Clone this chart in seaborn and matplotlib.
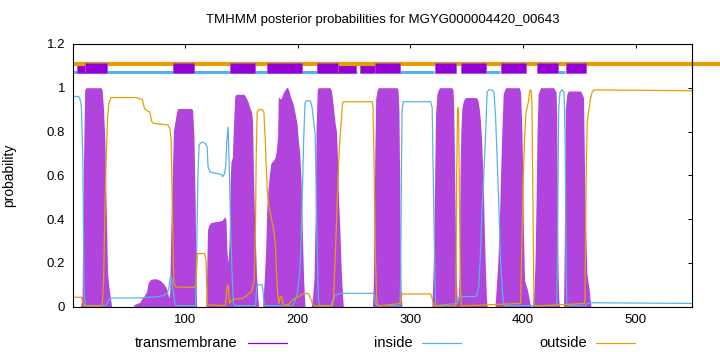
import numpy as np
import pandas as pd
import matplotlib
matplotlib.use("Agg")
import matplotlib.pyplot as plt
import seaborn as sns
from matplotlib.lines import Line2D
from matplotlib.patches import Rectangle

# ---------------- data ----------------
title = "TMHMM posterior probabilities for MGYG000004420_00643"
seq_len = 550

# transmembrane posterior probability (residue, probability)
tm_pos = [1, 7.5, 8.8, 9.9, 11.1, 12.3, 25.5, 26.6, 27.8, 29.0, 30.2, 31.4, 32.6, 33.8, 35,
          54, 55, 60, 62, 64, 66, 67.5, 69.5, 74, 78, 81, 83, 84.5, 85.5, 86.5,
          87.5, 88.8, 89.8, 91, 92.3, 93.5, 105.6, 106.8, 108, 109, 109.8, 110.4,
          118.5, 119.3, 120, 121, 123, 130, 133, 134.5, 135.8, 136.5, 137.3, 138.3,
          139.2, 140, 140.8, 142, 143, 144.2, 145.4, 152.5, 153.7, 156, 157.5, 159, 160,
          160.8, 161.5, 162.5, 163.5, 164.8, 165.5,
          169, 170.3, 171.5, 172.7, 173.9, 175.1, 176.2, 178, 179.8, 181, 182.2, 182.8,
          184, 185.2, 186.3, 187.5, 188.7, 189.9, 191.1, 192.3, 193.5, 194.6, 195.8, 197,
          198.2, 199.4, 200.6, 201.8, 203, 204.2, 205.3, 206.5,
          212, 213.3, 214.5, 215.5, 216.3, 217.3, 218.3, 228.5, 229.7, 230.9, 232.1, 233.2,
          234.4, 235.2, 236.2, 237.4, 238.6, 239.8, 240.5,
          266.3, 267.1, 267.8, 268.4, 269.2, 270.5, 271.5, 288.2, 289, 289.8, 290.4, 291,
          291.7, 292.4,
          319, 320, 320.8, 321.5, 322.3, 323.5, 324.7, 325.9, 336.6, 337.8, 338.4, 339,
          339.6, 340.2, 340.8, 341.5,
          342.5, 343.3, 344, 344.7, 345.5, 346.5, 347.8, 349, 358.5, 359.7, 360.9, 362.1,
          363.3, 364.5, 365.3, 366.3, 367.3, 368,
          375, 376.3, 377.5, 378.7, 379.9, 381.1, 382.3, 383.5, 384.6, 396.5, 397.7, 398.9,
          399.5, 400.2, 401.2, 402.4, 403.6, 404.8, 406, 407,
          408, 409.5, 410.5, 411.5, 412.3, 413.3, 414.5, 415.5, 427.1, 428, 429.2, 429.8,
          430.4, 431, 431.6, 432.2,
          435.8, 436.5, 437.3, 438.7, 440, 451, 452.3, 453.5, 454.1, 454.7, 455.3, 456.5,
          457.7, 458.5, 459.2, 460.2, 550]
tm_prob = [0, 0, 0.05, 0.61, 0.99, 1.0, 1.0, 0.99, 0.9, 0.76, 0.44, 0.15, 0.09, 0.045, 0,
           0, 0.01, 0.02, 0.04, 0.05, 0.07, 0.11, 0.125, 0.128, 0.12, 0.105, 0.09, 0.07, 0.04, 0.06,
           0.35, 0.6, 0.8, 0.84, 0.88, 0.905, 0.905, 0.9, 0.78, 0.5, 0.15, 0,
           0, 0.15, 0.35, 0.37, 0.385, 0.39, 0.395, 0.405, 0.41, 0.39, 0.25, 0.2,
           0.3, 0.55, 0.66, 0.68, 0.82, 0.96, 0.97, 0.97, 0.96, 0.936, 0.91, 0.89, 0.85,
           0.6, 0.45, 0.3, 0.14, 0.03, 0,
           0, 0.12, 0.24, 0.46, 0.55, 0.61, 0.655, 0.665, 0.68, 0.71, 0.78, 0.96,
           0.95, 0.95, 0.965, 0.98, 0.99, 1.0, 1.0, 0.985, 0.96, 0.945, 0.93, 0.9,
           0.87, 0.837, 0.76, 0.7, 0.58, 0.32, 0.12, 0,
           0, 0.05, 0.13, 0.4, 0.8, 0.99, 1.0, 1.0, 0.99, 0.95, 0.89, 0.84,
           0.8, 0.7, 0.5, 0.35, 0.17, 0.05, 0,
           0, 0.1, 0.4, 0.7, 0.95, 0.99, 1.0, 1.0, 0.99, 0.9, 0.6, 0.25,
           0.08, 0,
           0, 0.14, 0.3, 0.6, 0.88, 0.97, 0.99, 1.0, 1.0, 0.99, 0.9, 0.7,
           0.45, 0.25, 0.12, 0.03,
           0.03, 0.15, 0.6, 0.8, 0.9, 0.93, 0.95, 0.955, 0.955, 0.945, 0.91, 0.85,
           0.74, 0.58, 0.4, 0.2, 0.05, 0,
           0, 0.1, 0.2, 0.35, 0.6, 0.8, 0.97, 0.99, 1.0, 1.0, 0.98, 0.8,
           0.64, 0.35, 0.12, 0.1, 0.08, 0.05, 0.015, 0,
           0, 0.06, 0.2, 0.5, 0.8, 0.97, 0.99, 1.0, 1.0, 0.99, 0.98, 0.85,
           0.4, 0.15, 0.03, 0,
           0, 0.3, 0.9, 0.97, 0.985, 0.985, 0.97, 0.955, 0.75, 0.5, 0.38, 0.15,
           0.107, 0.08, 0.04, 0, 0]

# inside posterior probability
inside_pos = [1, 5.9, 7.4, 8.2, 9.4, 10.6, 11.8, 29.6, 31, 33.5, 60, 66, 74, 80, 84.3, 85.7,
              87, 88, 89.2, 91, 92.5, 109.5, 110.6, 111.5, 112.6, 115, 117.9, 119.7, 120.5,
              122, 126, 132, 133.3, 135, 136.2, 137.2, 138.3, 139.5, 140.5, 141.8, 143, 144,
              162.6, 163.4, 164.2, 168.5, 169.3, 170.3, 195.3, 197, 199.6, 201.8, 203, 204.2,
              205.3, 206.5, 208, 211.3, 212.8, 214.3, 215.5, 216.3, 217.2, 218.4, 219.6,
              229.5, 231, 233.5, 238, 267.7, 269.2, 270.5, 290.8, 291.4, 292, 292.6, 293.8,
              317.9, 319.3, 320.2, 321.2, 322.3, 323, 341.6, 343.5, 345, 356.1, 359, 360.6,
              362, 363.5, 364.9, 366.5, 368, 369.5, 372.5, 374, 375.4, 376.9, 378.4, 379.9,
              381.4, 382.9, 429.8, 430.5, 431.5, 432.7, 434.5, 436.3, 437.2, 438, 438.6,
              439.5, 455.3, 457, 459.7, 550]
inside_prob = [0.96, 0.96, 0.94, 0.91, 0.68, 0.06, 0.005, 0.005, 0.015, 0.04, 0.04, 0.042,
               0.045, 0.05, 0.06, 0.085, 0.134, 0.137, 0.085, 0.015, 0.005, 0.005, 0.3, 0.6,
               0.74, 0.752, 0.746, 0.73, 0.64, 0.616, 0.61, 0.605, 0.594, 0.605, 0.64, 0.76,
               0.82, 0.6, 0.37, 0.15, 0.02, 0.005, 0.005, 0.07, 0.1, 0.1, 0.07, 0.005, 0.005,
               0.02, 0.06, 0.15, 0.3, 0.53, 0.76, 0.93, 0.94, 0.94, 0.91, 0.84, 0.79, 0.55,
               0.3, 0.03, 0.005, 0.005, 0.03, 0.053, 0.061, 0.061, 0.015, 0.005, 0.005, 0.15,
               0.6, 0.9, 0.936, 0.936, 0.91, 0.61, 0.3, 0.015, 0.005, 0.015, 0.05, 0.046,
               0.046, 0.05, 0.09, 0.23, 0.45, 0.58, 0.76, 0.98, 0.99, 0.99, 0.98, 0.88, 0.68,
               0.46, 0.23, 0.076, 0.005, 0.005, 0.3, 0.9, 0.98, 0.99, 0.98, 0.76, 0.3, 0.015,
               0.005, 0.005, 0.015, 0.018, 0.015]

# outside posterior probability
outside_pos = [1, 8.2, 9.4, 10.6, 26.6, 27.9, 29.0, 30.2, 31.4, 32.6, 34.4, 56.4, 62.3, 64.1,
               66.4, 68.8, 70.6, 72.3, 84.8, 86.6, 87.8, 88.7, 89.6, 90.2, 92, 108, 109.8, 111,
               117.5, 118.7, 119.9, 135.9, 137.4, 138.3, 139.5, 140.6, 143, 150.7, 153.7,
               156.7, 159, 160.2, 161.4, 162.6, 163.2, 164.1, 165.6, 168.5, 170.0, 171.0,
               172.1, 173.2, 174.4, 175.6, 176.8, 178, 179.2, 180.4, 181, 182.2, 183.4, 184.6,
               185.8, 187, 189.3, 192.3, 195.3, 198.2, 201.2, 204.2, 208.3, 210, 211.3, 213,
               214.8, 230.6, 231.8, 232.7, 233.9, 235, 236.2, 237.4, 238.6, 239.8, 241, 266.2,
               266.8, 267.7, 268.3, 268.9, 270.1, 271.3, 291.1, 292.6, 317.9, 319.3, 320.8,
               340.3, 341, 341.8, 342.6, 343.3, 344.3, 345, 397.7, 398.9, 400, 401.2, 402.4,
               403.6, 404.8, 406, 407.2, 407.8, 408.4, 409, 409.6, 410.5, 454.7, 455.3, 455.9,
               456.8, 458.3, 459.7, 461.2, 462.7, 550]
outside_prob = [0.043, 0.043, 0.02, 0.003, 0.003, 0.12, 0.44, 0.68, 0.86, 0.93, 0.955, 0.955,
                0.946, 0.905, 0.895, 0.89, 0.845, 0.837, 0.83, 0.815, 0.76, 0.49, 0.23, 0.107,
                0.09, 0.088, 0.1, 0.243, 0.243, 0.213, 0.008, 0.005, 0.09, 0.1, 0.015, 0.023,
                0.033, 0.038, 0.046, 0.06, 0.068, 0.09, 0.12, 0.38, 0.68, 0.89, 0.9, 0.9, 0.89,
                0.79, 0.64, 0.52, 0.46, 0.43, 0.4, 0.37, 0.335, 0.27, 0.18, 0.06, 0.015, 0.046,
                0.046, 0.015, 0.005, 0.012, 0.03, 0.038, 0.046, 0.058, 0.061, 0.058, 0.038,
                0.015, 0.003, 0.003, 0.03, 0.15, 0.3, 0.48, 0.64, 0.76, 0.84, 0.93, 0.936,
                0.936, 0.91, 0.68, 0.46, 0.23, 0.03, 0.003, 0.015, 0.058, 0.058, 0.038, 0.003,
                0.003, 0.6, 0.9, 0.91, 0.6, 0.1, 0.003, 0.015, 0.3, 0.58, 0.76, 0.88, 0.913,
                0.94, 0.99, 0.985, 0.913, 0.61, 0.3, 0.015, 0.003, 0.015, 0.3, 0.6, 0.84, 0.9,
                0.95, 0.98, 0.99, 0.986]

# top annotation: predicted topology
tm_box_start = [11.2, 89.6, 140.3, 172.7, 216.7, 268.7, 322.2, 345.2, 380.1, 412.2, 438.4]
tm_box_end = [30.5, 108.3, 162.3, 203.8, 235.9, 290.9, 340.7, 367.2, 402.1, 431.3, 455.3]
tm_thin_start = [4.4, 235.9, 255.4]
tm_thin_end = [11.2, 251.7, 268.7]
inside_seg_start = [1, 290.9, 367.2, 431.3]
inside_seg_end = [253.0, 321.2, 379.5, 437.0]
outside_seg_start = [1]
outside_seg_end = [580]

x_ticks = [100, 200, 300, 400, 500]
y_ticks = [0, 0.2, 0.4, 0.6, 0.8, 1.0, 1.2]
y_tick_labels = ["0", "0.2", "0.4", "0.6", "0.8", "1", "1.2"]
legend_labels = ["transmembrane", "inside", "outside"]

# ---------------- style ----------------
sns.set_theme(style="white")
plt.rcParams["font.family"] = ["Liberation Sans", "DejaVu Sans"]

c_tm = "#9400d3"
c_tm_fill = "#b044dd"
c_in = "#56b4e9"
c_out = "#e69f00"

W, H = 720, 352
fig = plt.figure(figsize=(W / 100, H / 100), dpi=100)
ax = fig.add_axes([73.3 / W, 45.3 / H, (692.3 - 73.3) / W, (306.7 - 43.9) / H])

tm_df = pd.DataFrame({"pos": tm_pos, "prob": tm_prob})
in_df = pd.DataFrame({"pos": inside_pos, "prob": inside_prob})
out_df = pd.DataFrame({"pos": outside_pos, "prob": outside_prob})

ax.fill_between(tm_df["pos"], 0, tm_df["prob"], color=c_tm_fill, lw=0, zorder=2)
sns.lineplot(data=in_df, x="pos", y="prob", ax=ax, color=c_in, lw=0.9,
             estimator=None, sort=False, zorder=3)
sns.lineplot(data=out_df, x="pos", y="prob", ax=ax, color=c_out, lw=0.9,
             estimator=None, sort=False, zorder=3)

# top topology annotation
for s, e in zip(inside_seg_start, inside_seg_end):
    ax.plot([s, e], [1.071, 1.071], color=c_in, lw=2.2, solid_capstyle="butt", zorder=4)
for s, e in zip(tm_thin_start, tm_thin_end):
    ax.add_patch(Rectangle((s, 1.066), e - s, 0.036, facecolor=c_tm, edgecolor="#a848dc",
                           lw=0.5, zorder=4.5))
for s, e in zip(outside_seg_start, outside_seg_end):
    ax.plot([s, e], [1.108, 1.108], color=c_out, lw=3.0, solid_capstyle="butt",
            zorder=5, clip_on=False)
for s, e in zip(tm_box_start, tm_box_end):
    ax.add_patch(Rectangle((s, 1.066), e - s, 0.048, facecolor=c_tm, edgecolor="#a848dc",
                           lw=0.5, zorder=6))

ax.set_xlim(1, seq_len)
ax.set_ylim(0, 1.2)
ax.set_xticks(x_ticks)
ax.set_xticklabels([str(t) for t in x_ticks])
ax.set_yticks(y_ticks)
ax.set_yticklabels(y_tick_labels)
ax.tick_params(direction="in", length=3, width=0.7, top=True, right=True,
               labelsize=9.5, colors="black", pad=6)
ax.tick_params(axis="x", pad=5)
for sp in ax.spines.values():
    sp.set_color("black")
    sp.set_linewidth(0.8)
    sp.set_zorder(7)
ax.set_xlabel("")
ax.set_ylabel("probability", fontsize=10, color="black")
ax.yaxis.set_label_coords(-0.092, 0.5)
ax.grid(False)

fig.text(382.5 / W, 1 - 20 / H, title, ha="center", va="center", fontsize=9.5, color="black")

# legend below the plot (label then line sample)
leg_text_right = [237.7, 412.5, 587.0]
leg_line_x0 = [248.0, 422.0, 596.0]
leg_line_x1 = [286.7, 460.7, 635.2]
leg_colors = [c_tm, c_in, c_out]
ly = 1 - 343 / H
for lab, tr, x0, x1, col in zip(legend_labels, leg_text_right, leg_line_x0, leg_line_x1, leg_colors):
    fig.text(tr / W, ly, lab, ha="right", va="center", fontsize=10.5, color="black")
    fig.add_artist(Line2D([x0 / W, x1 / W], [ly, ly], transform=fig.transFigure,
                          color=col, lw=0.9))

fig.savefig("out.png", dpi=100)
